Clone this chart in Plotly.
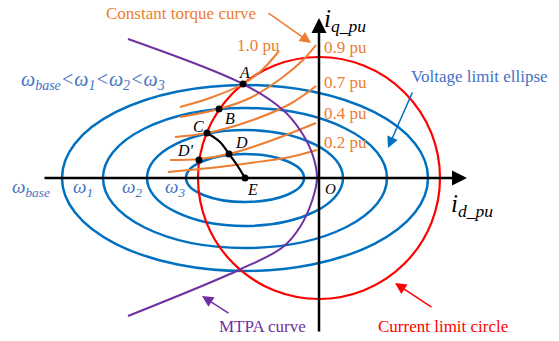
import plotly.graph_objects as go

# ---------------- data (diagram units: 1 unit = 1 px, origin at O) ----------------
ell_cx = -74
ell_a = [183, 142, 98, 59]
ell_b = [93, 70, 48, 24]
ell_labels = ["ω<sub>base</sub>", "ω<sub>1</sub>", "ω<sub>2</sub>", "ω<sub>3</sub>"]
ell_label_x = [-288, -236, -187, -144]
ell_label_y = -10

circle_r = 121

torque_labels = ["1.0 pu", "0.9 pu", "0.7 pu", "0.4 pu", "0.2 pu"]
torque_x = [
    [-139, -109, -76, -57, -40],
    [-139, -100, -69, -36, -16, -3],
    [-144, -112, -69, -29, -3],
    [-149, -120, -90, -49, -3],
    [-151, -109, -69, -29, -2],
]
torque_y = [
    [71, 80, 94, 108, 127],
    [61, 69, 80, 101, 118, 133],
    [41, 45, 57, 74, 92],
    [18, 19, 24, 37, 55],
    [6, 10, 15, 21, 28],
]
torque_label_x = [-61, 3, 3, 3, 3]
torque_label_y = [133, 131, 96, 65, 36]

mtpa_x = [-191, -76, -36, -19, -7, -2, -7, -19, -36, -78, -191]
mtpa_y = [139, 94, 68, 48, 25, 0, -23, -49, -69, -91, -138]

arc_x = [-112, -99, -90, -82, -74]
arc_y = [45, 36, 24, 13, 0]

pt_names = ["A", "B", "C", "D", "D'", "E"]
pt_x = [-76, -100, -112, -90, -120, -74]
pt_y = [94, 69, 45, 24, 18, 0]
pt_label_x = [-75, -89, -121, -78, -134, -67]
pt_label_y = [106, 60, 52, 36, 28, -11]

BLUE = "#0070C0"
BLUE_TXT = "#4472C4"
RED = "#FF0000"
ORANGE = "#ED7D31"
PURPLE = "#7030A0"
FONT = '"Liberation Serif", "Times New Roman", Times, serif'

fig = go.Figure()

shapes = []
for a, b in zip(ell_a, ell_b):
    shapes.append(dict(type="circle", xref="x", yref="y",
                       x0=ell_cx - a, x1=ell_cx + a, y0=-b, y1=b,
                       line=dict(color=BLUE, width=2.5), layer="below"))
shapes.append(dict(type="circle", xref="x", yref="y",
                   x0=-circle_r, x1=circle_r, y0=-circle_r, y1=circle_r,
                   line=dict(color=RED, width=2.2), layer="below"))

for xs, ys in zip(torque_x, torque_y):
    fig.add_trace(go.Scatter(x=xs, y=ys, mode="lines",
                             line=dict(color=ORANGE, width=2, shape="spline", smoothing=1.0),
                             hoverinfo="skip", showlegend=False))

fig.add_trace(go.Scatter(x=mtpa_x, y=mtpa_y, mode="lines",
                         line=dict(color=PURPLE, width=2, shape="spline"),
                         hoverinfo="skip", showlegend=False))

fig.add_trace(go.Scatter(x=arc_x, y=arc_y, mode="lines",
                         line=dict(color="black", width=2.2, shape="spline"),
                         hoverinfo="skip", showlegend=False))

fig.add_trace(go.Scatter(x=pt_x, y=pt_y, mode="markers",
                         marker=dict(color="black", size=7),
                         hoverinfo="skip", showlegend=False))

ann = []

def arrow(tx, ty, hx, hy, color, width, size):
    ann.append(dict(x=hx, y=hy, ax=tx, ay=ty, xref="x", yref="y", axref="x", ayref="y",
                    text="", showarrow=True, arrowhead=2, arrowsize=size,
                    arrowwidth=width, arrowcolor=color, standoff=0, startstandoff=0))

def label(x, y, text, color, size, xanchor="center", italic=False):
    t = f"<i>{text}</i>" if italic else text
    ann.append(dict(x=x, y=y, xref="x", yref="y", text=t, showarrow=False,
                    xanchor=xanchor, yanchor="middle",
                    font=dict(family=FONT, size=size, color=color)))

arrow(-276, 0, 148, 0, "black", 2.5, 1.2)
arrow(0, -155, 0, 160, "black", 2.5, 1.2)

arrow(-52, 166, -8, 135, ORANGE, 1.5, 1.5)
arrow(94, 87, 69, 30, BLUE, 1.5, 1.5)
arrow(-89, -136, -117, -118, PURPLE, 1.5, 1.5)
arrow(114, -130, 76, -105, RED, 1.5, 1.5)

label(-138, 165, "Constant torque curve", ORANGE, 17)
label(160, 102, "Voltage limit ellipse", BLUE_TXT, 17)
label(-57, -148, "MTPA curve", PURPLE, 17)
label(124, -148, "Current limit circle", RED, 17)
label(-226, 98, "ω<sub>base</sub>&lt;ω<sub>1</sub>&lt;ω<sub>2</sub>&lt;ω<sub>3</sub>", BLUE_TXT, 20, italic=True)

for t, x in zip(ell_labels, ell_label_x):
    label(x, ell_label_y, t, BLUE_TXT, 19, italic=True)

for t, x, y in zip(torque_labels, torque_label_x, torque_label_y):
    label(x, y, t, ORANGE, 17, xanchor="center" if x < 0 else "left")

for t, x, y in zip(pt_names, pt_label_x, pt_label_y):
    label(x, y, t, "black", 16, italic=True)

label(11, -11, "O", "black", 15, italic=True)
label(3, 158, "i<sub>q_pu</sub>", "black", 25, xanchor="left", italic=True)
label(130, -27, "i<sub>d_pu</sub>", "black", 25, xanchor="left", italic=True)

fig.update_layout(
    width=559, height=341, autosize=False,
    margin=dict(l=0, r=0, t=0, b=0),
    paper_bgcolor="white", plot_bgcolor="white",
    font=dict(family=FONT),
    xaxis=dict(range=[-319, 240], visible=False, fixedrange=True),
    yaxis=dict(range=[-163, 178], visible=False, fixedrange=True),
    shapes=shapes, annotations=ann, showlegend=False,
)

fig.write_html("out.html")
